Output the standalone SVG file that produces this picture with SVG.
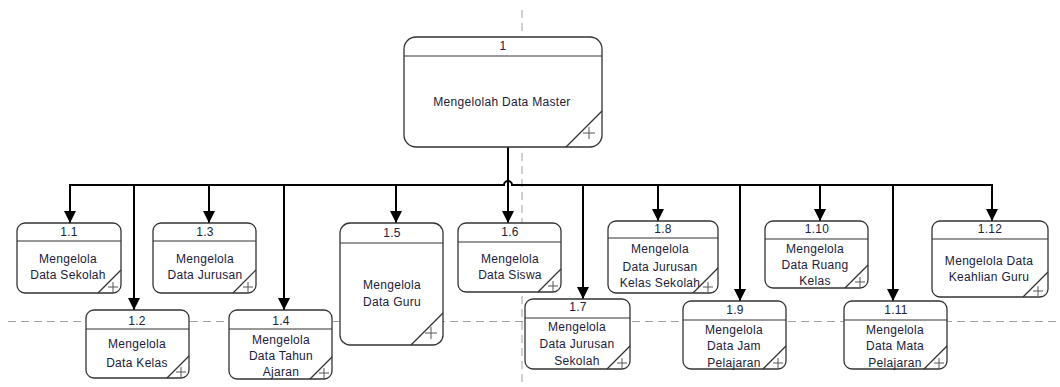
<svg xmlns="http://www.w3.org/2000/svg" width="1060" height="387" viewBox="0 0 1060 387">
<style>
.guide{stroke:#a0a0a0;stroke-width:1;stroke-dasharray:8,5;fill:none}
.box{fill:#fff;stroke:#333;stroke-width:1.3}
.ln{stroke:#333;stroke-width:1.2;fill:none}
.plus{stroke:#555;stroke-width:1;fill:none}
.wire{stroke:#000;stroke-width:2;fill:none}
.t{font-family:"Liberation Sans",Arial,sans-serif;font-size:12px;fill:#20203a;text-anchor:middle;letter-spacing:0.3px}
</style>
<defs>
<marker id="ah" markerUnits="userSpaceOnUse" markerWidth="12" markerHeight="12" refX="12" refY="6" orient="auto">
<path d="M0,0 L12,6 L0,12 z" fill="#000"/>
</marker>
</defs>
<rect width="1060" height="387" fill="#fff"/>
<g id="guides">
<line class="guide" x1="522" y1="10" x2="522" y2="387"/>
<line class="guide" x1="8" y1="321.5" x2="1060" y2="321.5"/>
</g>
<g id="connectors">
<path class="wire" d="M70,185 H504 A4,4 0 0 1 512,185 H992"/>
<line class="wire" x1="508" y1="147" x2="508" y2="223" marker-end="url(#ah)"/>
<line class="wire" x1="70" y1="184" x2="70" y2="223" marker-end="url(#ah)"/>
<line class="wire" x1="134" y1="185" x2="134" y2="310" marker-end="url(#ah)"/>
<line class="wire" x1="209" y1="185" x2="209" y2="223" marker-end="url(#ah)"/>
<line class="wire" x1="284" y1="185" x2="284" y2="310" marker-end="url(#ah)"/>
<line class="wire" x1="396" y1="185" x2="396" y2="223" marker-end="url(#ah)"/>
<line class="wire" x1="583" y1="185" x2="583" y2="299" marker-end="url(#ah)"/>
<line class="wire" x1="658" y1="185" x2="658" y2="221" marker-end="url(#ah)"/>
<line class="wire" x1="740" y1="185" x2="740" y2="301" marker-end="url(#ah)"/>
<line class="wire" x1="820" y1="185" x2="820" y2="221" marker-end="url(#ah)"/>
<line class="wire" x1="893" y1="185" x2="893" y2="301" marker-end="url(#ah)"/>
<line class="wire" x1="992" y1="184" x2="992" y2="221" marker-end="url(#ah)"/>
</g>
<g id="n1">
<rect class="box" x="404" y="37" width="198" height="110" rx="12"/>
<line class="ln" x1="404" y1="56" x2="602" y2="56"/>
<line class="ln" x1="566" y1="147" x2="602" y2="111"/>
<path class="plus" d="M583,133 H595 M589,127 V139"/>
<text class="t" x="503" y="50">1</text>
<text class="t" x="502" y="106">Mengelolah Data Master</text>
</g>
<g id="n1_1">
<rect class="box" x="17" y="223" width="104" height="70" rx="8"/>
<line class="ln" x1="17" y1="241" x2="121" y2="241"/>
<line class="ln" x1="98" y1="293" x2="121" y2="270"/>
<path class="plus" d="M108,287 H118 M113,282 V292"/>
<text class="t" x="69" y="236">1.1</text>
<text class="t" x="68" y="263">Mengelola</text>
<text class="t" x="68" y="279">Data Sekolah</text>
</g>
<g id="n1_2">
<rect class="box" x="86" y="310" width="103" height="68" rx="8"/>
<line class="ln" x1="86" y1="329" x2="189" y2="329"/>
<line class="ln" x1="167" y1="378" x2="189" y2="356"/>
<path class="plus" d="M176,372 H186 M181,367 V377"/>
<text class="t" x="137" y="325">1.2</text>
<text class="t" x="137" y="348">Mengelola</text>
<text class="t" x="137" y="367">Data Kelas</text>
</g>
<g id="n1_3">
<rect class="box" x="153" y="223" width="103" height="70" rx="8"/>
<line class="ln" x1="153" y1="241" x2="256" y2="241"/>
<line class="ln" x1="233" y1="293" x2="256" y2="270"/>
<path class="plus" d="M243,287 H253 M248,282 V292"/>
<text class="t" x="205" y="236">1.3</text>
<text class="t" x="205" y="263">Mengelola</text>
<text class="t" x="205" y="279">Data Jurusan</text>
</g>
<g id="n1_4">
<rect class="box" x="229" y="310" width="103" height="69" rx="8"/>
<line class="ln" x1="229" y1="329" x2="332" y2="329"/>
<line class="ln" x1="310" y1="379" x2="332" y2="357"/>
<path class="plus" d="M319,373 H329 M324,368 V378"/>
<text class="t" x="281" y="325">1.4</text>
<text class="t" x="281" y="344">Mengelola</text>
<text class="t" x="281" y="360">Data Tahun</text>
<text class="t" x="281" y="376">Ajaran</text>
</g>
<g id="n1_5">
<rect class="box" x="340" y="223" width="103" height="122" rx="10"/>
<line class="ln" x1="340" y1="243" x2="443" y2="243"/>
<line class="ln" x1="411" y1="345" x2="443" y2="313"/>
<path class="plus" d="M425,333 H437 M431,327 V339"/>
<text class="t" x="392" y="237">1.5</text>
<text class="t" x="392" y="289">Mengelola</text>
<text class="t" x="392" y="306">Data Guru</text>
</g>
<g id="n1_6">
<rect class="box" x="458" y="223" width="103" height="69" rx="8"/>
<line class="ln" x1="458" y1="242" x2="561" y2="242"/>
<line class="ln" x1="538" y1="292" x2="561" y2="269"/>
<path class="plus" d="M548,286 H558 M553,281 V291"/>
<text class="t" x="510" y="236">1.6</text>
<text class="t" x="510" y="263">Mengelola</text>
<text class="t" x="510" y="279">Data Siswa</text>
</g>
<g id="n1_7">
<rect class="box" x="525" y="299" width="105" height="70" rx="8"/>
<line class="ln" x1="525" y1="318" x2="630" y2="318"/>
<line class="ln" x1="607" y1="369" x2="630" y2="346"/>
<path class="plus" d="M617,363 H627 M622,358 V368"/>
<text class="t" x="578" y="311">1.7</text>
<text class="t" x="577" y="331">Mengelola</text>
<text class="t" x="577" y="348">Data Jurusan</text>
<text class="t" x="577" y="365">Sekolah</text>
</g>
<g id="n1_8">
<rect class="box" x="608" y="221" width="110" height="72" rx="8"/>
<line class="ln" x1="608" y1="238" x2="718" y2="238"/>
<line class="ln" x1="693" y1="293" x2="718" y2="268"/>
<path class="plus" d="M703,287 H713 M708,282 V292"/>
<text class="t" x="663" y="233">1.8</text>
<text class="t" x="660" y="253">Mengelola</text>
<text class="t" x="660" y="271">Data Jurusan</text>
<text class="t" x="660" y="287">Kelas Sekolah</text>
</g>
<g id="n1_9">
<rect class="box" x="683" y="301" width="103" height="68" rx="8"/>
<line class="ln" x1="683" y1="320" x2="786" y2="320"/>
<line class="ln" x1="763" y1="369" x2="786" y2="346"/>
<path class="plus" d="M773,363 H783 M778,358 V368"/>
<text class="t" x="735" y="314">1.9</text>
<text class="t" x="734" y="334">Mengelola</text>
<text class="t" x="734" y="350">Data Jam</text>
<text class="t" x="734" y="367">Pelajaran</text>
</g>
<g id="n1_10">
<rect class="box" x="765" y="221" width="103" height="67" rx="8"/>
<line class="ln" x1="765" y1="239" x2="868" y2="239"/>
<line class="ln" x1="845" y1="288" x2="868" y2="265"/>
<path class="plus" d="M855,282 H865 M860,277 V287"/>
<text class="t" x="817" y="233">1.10</text>
<text class="t" x="815" y="253">Mengelola</text>
<text class="t" x="815" y="269">Data Ruang</text>
<text class="t" x="815" y="285">Kelas</text>
</g>
<g id="n1_11">
<rect class="box" x="844" y="301" width="103" height="68" rx="8"/>
<line class="ln" x1="844" y1="320" x2="947" y2="320"/>
<line class="ln" x1="924" y1="369" x2="947" y2="346"/>
<path class="plus" d="M934,363 H944 M939,358 V368"/>
<text class="t" x="896" y="314">1.11</text>
<text class="t" x="895" y="334">Mengelola</text>
<text class="t" x="895" y="350">Data Mata</text>
<text class="t" x="895" y="367">Pelajaran</text>
</g>
<g id="n1_12">
<rect class="box" x="932" y="221" width="116" height="76" rx="8"/>
<line class="ln" x1="932" y1="239" x2="1048" y2="239"/>
<line class="ln" x1="1023" y1="297" x2="1048" y2="272"/>
<path class="plus" d="M1033,291 H1043 M1038,286 V296"/>
<text class="t" x="990" y="233">1.12</text>
<text class="t" x="989" y="265">Mengelola Data</text>
<text class="t" x="989" y="281">Keahlian Guru</text>
</g>
</svg>
